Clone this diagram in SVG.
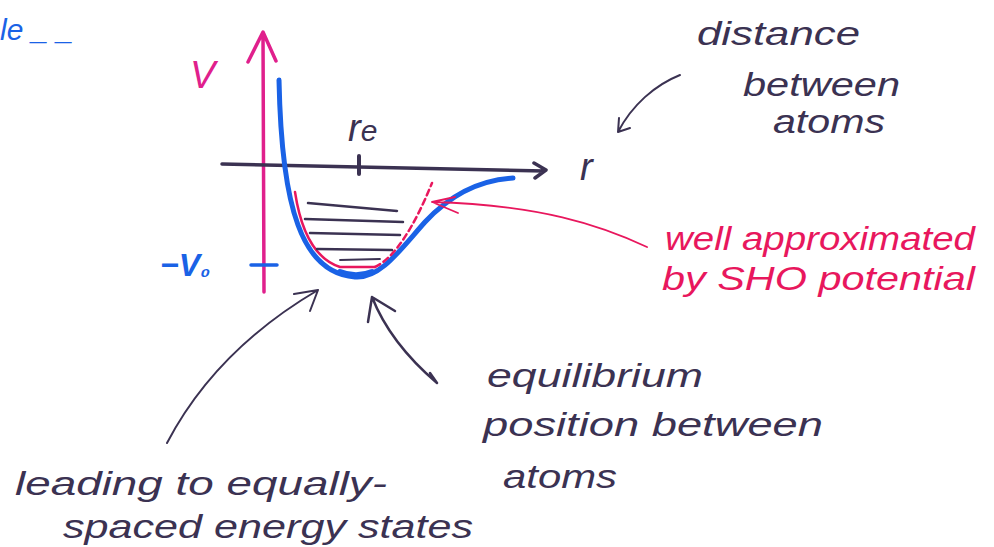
<svg xmlns="http://www.w3.org/2000/svg" width="994" height="547" viewBox="0 0 994 547">
<style>
.ink{fill:none;stroke:#3b3252;stroke-linecap:round;stroke-linejoin:round}
.mag{fill:none;stroke:#e0208c;stroke-width:3.5;stroke-linecap:round;stroke-linejoin:round}
.blue{fill:none;stroke:#1a62e6;stroke-linecap:round;stroke-linejoin:round}
.red{fill:none;stroke:#e8175d;stroke-linecap:round;stroke-linejoin:round}
.t{font-family:"Liberation Sans",Arial,sans-serif;font-style:italic}
.td{fill:#3b3252}
.tp{fill:#e8175d}
.tb{fill:#1a62e6}
.tm{fill:#e0208c}
</style>
<rect width="994" height="547" fill="#ffffff"/>
<g id="axes">
  <path class="mag" d="M264,292 L263,33 M248,62 L263,32 L276,61"/>
  <path class="ink" stroke-width="3.5" d="M222,164 L544,171 M534,163 L546,170 L535,178"/>
  <path class="ink" stroke-width="4" d="M359,156 L359,174"/>
  <path class="blue" stroke-width="3.5" d="M251,265 L277,265"/>
</g>
<g id="potential-curve">
  <path class="blue" stroke-width="5" d="M279,80 C280,130 285,190 298,225 C310,258 330,275 355,277 C380,279 400,250 425,222 C450,195 480,180 513,178"/>
  <path class="blue" stroke-width="6" d="M340,272 C350,276 362,276 372,272"/>
</g>
<g id="sho-parabola">
  <path class="red" stroke-width="2.5" d="M295,192 C300,225 312,258 340,267 L375,267"/>
  <path class="red" stroke-width="2.5" stroke-dasharray="6 4" d="M375,267 C395,258 415,225 432,183"/>
</g>
<g id="energy-levels" class="ink">
  <path stroke-width="2.5" d="M308,203 L397,211"/>
  <path stroke-width="2.5" d="M305,219 L403,222"/>
  <path stroke-width="2.5" d="M310,233 L400,235"/>
  <path stroke-width="2.5" d="M317,249 L392,250"/>
  <path stroke-width="1.8" d="M340,260 L380,259"/>
</g>
<g id="axis-labels">
  <text class="t tm" x="190" y="88" font-size="38">V</text>
  <text class="t td" x="348" y="141" font-size="38">r<tspan font-size="30">e</tspan></text>
  <text class="t td" x="580" y="180" font-size="38">r</text>
  <text class="t tb" x="160" y="276" font-size="32" font-weight="bold">−V<tspan font-size="26">₀</tspan></text>
  <text class="t tb" x="0" y="40" font-size="30">le _ _</text>
</g>
<g id="connectors">
  <path class="ink" stroke="#6a6680" stroke-width="2" d="M680,75 C655,85 632,105 618,132 M618,132 L619,118 M618,132 L630,128"/>
  <path class="red" stroke-width="1.8" d="M647,247 C600,225 540,205 432,202 M432,202 L458,213 M432,202 L455,197"/>
  <path class="ink" stroke-width="2" d="M167,443 C200,380 250,330 318,290 M318,290 L294,294 M318,290 L310,311"/>
  <path class="ink" stroke-width="2.5" d="M437,383 C410,360 385,330 372,297 M372,297 L395,311 M372,297 L368,322 M437,383 L430,373"/>
</g>
<g id="label-distance">
  <text class="t td" x="697" y="45" font-size="34" textLength="163" lengthAdjust="spacingAndGlyphs">distance</text>
  <text class="t td" x="743" y="96" font-size="34" textLength="157" lengthAdjust="spacingAndGlyphs">between</text>
  <text class="t td" x="773" y="133" font-size="34" textLength="112" lengthAdjust="spacingAndGlyphs">atoms</text>
</g>
<g id="label-sho">
  <text class="t tp" x="665" y="250" font-size="34" textLength="310" lengthAdjust="spacingAndGlyphs">well approximated</text>
  <text class="t tp" x="662" y="290" font-size="34" textLength="313" lengthAdjust="spacingAndGlyphs">by SHO potential</text>
</g>
<g id="label-equilibrium">
  <text class="t td" x="487" y="387" font-size="34" textLength="216" lengthAdjust="spacingAndGlyphs">equilibrium</text>
  <text class="t td" x="483" y="436" font-size="34" textLength="340" lengthAdjust="spacingAndGlyphs">position between</text>
  <text class="t td" x="503" y="488" font-size="34" textLength="114" lengthAdjust="spacingAndGlyphs">atoms</text>
</g>
<g id="label-spaced">
  <text class="t td" x="15" y="495" font-size="34" textLength="372" lengthAdjust="spacingAndGlyphs">leading to equally-</text>
  <text class="t td" x="63" y="538" font-size="34" textLength="410" lengthAdjust="spacingAndGlyphs">spaced energy states</text>
</g>
</svg>
